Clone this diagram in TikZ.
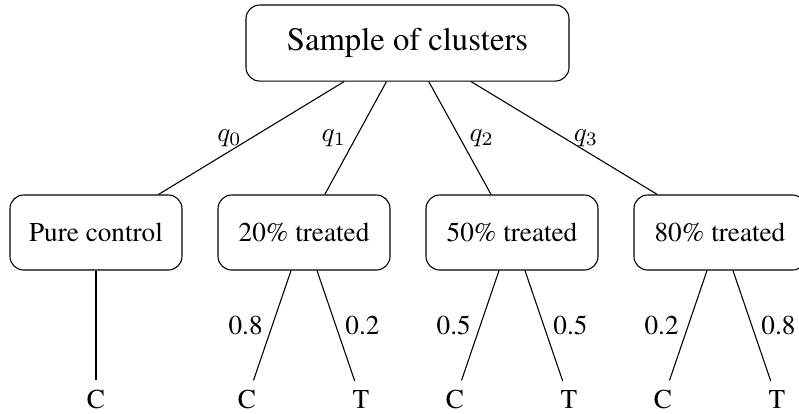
\documentclass[tikz,border=0pt]{standalone}
\usepackage[T1]{fontenc}
\usepackage{times}
\begin{document}
\begin{tikzpicture}[grp/.style={shape=rectangle,draw,rounded corners=5pt,minimum width=2.222cm,minimum height=0.969cm}]
\useasboundingbox (0,0) rectangle (10.323,-5.336);
\node[grp,minimum width=4.173cm,minimum height=0.982cm,font=\large] (s) at (5.265,-0.556) {Sample of clusters};
\node[grp] (p0) at (1.240,-3.004) {Pure control};
\node[grp] (p20) at (3.928,-3.004) {20\% treated};
\node[grp] (p50) at (6.615,-3.004) {50\% treated};
\node[grp] (p80) at (9.302,-3.004) {80\% treated};
\node (c0) at (1.240,-5.160) {C};
\node (c20) at (3.191,-5.160) {C};
\node (t20) at (4.664,-5.160) {T};
\node (c50) at (5.879,-5.160) {C};
\node (t50) at (7.351,-5.160) {T};
\node (c80) at (8.566,-5.160) {C};
\node (t80) at (10.039,-5.160) {T};

\draw (s)-- node[left] {$q_0$} (p0);
\draw (s)-- node[left] {$q_1$} (p20);
\draw (s)-- node[right] {$q_2$} (p50);
\draw (s)-- node[right] {$q_3$} (p80);
\draw (p0)--(c0);
\draw (p20)-- node[left] {0.8} (c20);
\draw (p20)-- node[right] {0.2} (t20);
\draw (p50)-- node[left] {0.5} (c50);
\draw (p50)-- node[right] {0.5} (t50);
\draw (p80)-- node[left] {0.2} (c80);
\draw (p80)-- node[right] {0.8} (t80);
\end{tikzpicture}
\end{document}
